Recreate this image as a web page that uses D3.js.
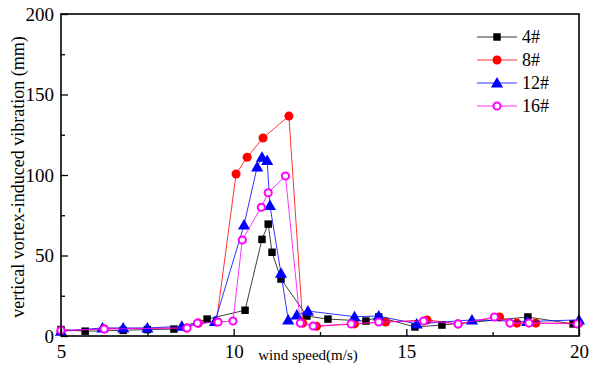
<!DOCTYPE html>
<html><head><meta charset="utf-8">
<script src="https://cdn.jsdelivr.net/npm/d3@7"></script>
<style>body{margin:0;background:#fff}svg{display:block}</style>
</head><body><svg id="c" width="600" height="373"></svg>
<script>
const seriesNames = ["4#", "8#", "12#", "16#"];
const s4x = [5.0, 5.7, 6.8, 7.5, 8.27, 9.23, 10.33, 10.82, 11.0, 11.11, 11.37, 12.12, 12.73, 13.83, 14.2, 15.25, 16.03, 18.52, 19.83];
const s4y = [4, 3, 3.5, 4, 4.3, 10.5, 16, 60, 69.5, 52, 35.4, 12.4, 10.5, 9.3, 11.8, 5.6, 6.8, 11.8, 7.5];
const s8x = [5.0, 6.25, 8.64, 8.98, 9.5, 10.07, 10.39, 10.85, 11.6, 12.0, 12.4, 13.5, 14.4, 15.6, 16.5, 17.7, 18.2, 18.75, 20.0];
const s8y = [3, 4.5, 5, 8, 8.7, 100.6, 111, 123, 136.6, 8, 6, 7.5, 8.7, 10, 7.5, 11.8, 8, 8, 8];
const s12x = [5.0, 6.2, 6.8, 7.5, 8.5, 9.46, 10.3, 10.68, 10.82, 10.97, 11.05, 11.37, 11.58, 11.83, 12.15, 13.5, 14.2, 15.3, 16.9, 18.5, 20.0];
const s12y = [3, 5, 5, 5, 6, 9, 69, 105, 111, 109, 81, 39, 10, 13, 15.5, 12, 12.4, 7.5, 10, 9, 10];
const s16x = [5.0, 6.25, 8.65, 8.95, 9.55, 9.98, 10.25, 10.8, 11.0, 11.5, 11.93, 12.3, 13.4, 14.2, 15.5, 16.5, 17.55, 18.0, 18.55, 19.95];
const s16y = [3.5, 4.3, 5, 8, 8.7, 9.3, 59.6, 80, 89, 99.4, 8, 6.2, 7.5, 8.7, 9.3, 7.5, 11.8, 8, 8, 7.5];
const xTicks = [5, 10, 15, 20];
const yTicks = [0, 50, 100, 150, 200];
const xTitle = "wind speed(m/s)";
const yTitle = "vertical vortex-induced vibration (mm)";

const L = 61, R = 579, T = 14, B = 336;
const FONT = '"Liberation Serif"';
const svg = d3.select("#c");
const x = d3.scaleLinear().domain([5, 20]).range([L, R]);
const y = d3.scaleLinear().domain([0, 200]).range([B, T]);

const colors = ["#000", "#ff0000", "#0000ff", "#ff00ff"];
const data = [[s4x, s4y], [s8x, s8y], [s12x, s12y], [s16x, s16y]].map(([xs, ys]) => xs.map((v, i) => [v, ys[i]]));

const g = svg.append("g");
const line = d3.line().x(d => x(d[0])).y(d => y(d[1]));
const sym = [d3.symbolSquare, d3.symbolCircle, d3.symbolTriangle, d3.symbolCircle];
const symSize = [56, 64, 64, 40];

function marker(sel, i) {
  const p = d3.symbol().type(sym[i]).size(symSize[i]);
  sel.attr("d", p)
    .attr("fill", i === 3 ? "#fff" : colors[i])
    .attr("stroke", i === 3 ? colors[i] : "none")
    .attr("stroke-width", i === 3 ? 2 : 0);
}

data.forEach((ds, i) => {
  const sg = g.append("g");
  sg.append("path").datum(ds).attr("d", line).attr("fill", "none")
    .attr("stroke", colors[i]).attr("stroke-width", 1).attr("opacity", i === 0 ? 0.75 : 0.8);
  sg.selectAll("path.m").data(ds).join("path").attr("class", "m")
    .attr("transform", d => `translate(${x(d[0])},${y(d[1]) + (i === 2 ? 1 : 0)})`)
    .call(marker, i);
});

// frame
svg.append("rect").attr("x", L).attr("y", T).attr("width", R - L).attr("height", B - T)
  .attr("fill", "none").attr("stroke", "#000").attr("stroke-width", 1.6);

// axes
const xAxis = d3.axisBottom(x).tickValues(xTicks).tickSize(-7).tickPadding(9).tickFormat(d3.format("d"));
svg.append("g").attr("transform", `translate(0,${B})`).call(xAxis);
const xMinor = d3.axisBottom(x).tickValues([7.5, 12.5, 17.5]).tickSize(-4).tickFormat("");
svg.append("g").attr("transform", `translate(0,${B})`).call(xMinor);
const yAxis = d3.axisLeft(y).tickValues(yTicks).tickSize(-7).tickPadding(7).tickFormat(d3.format("d"));
svg.append("g").attr("transform", `translate(${L},0)`).call(yAxis);
const yMinor = d3.axisLeft(y).tickValues([25, 75, 125, 175]).tickSize(-4).tickFormat("");
svg.append("g").attr("transform", `translate(${L},0)`).call(yMinor);
svg.selectAll(".domain").remove();
svg.selectAll(".tick line").attr("stroke", "#000").attr("stroke-width", 1.3);
svg.selectAll(".tick text").style("font-family", FONT).style("font-size", "19px").attr("fill", "#000");

svg.append("text").attr("x", 308).attr("y", 360).attr("text-anchor", "middle")
  .style("font-family", FONT).style("font-size", "15px").text(xTitle);
svg.append("text").attr("transform", `translate(24,177) rotate(-90)`).attr("text-anchor", "middle")
  .style("font-family", FONT).style("font-size", "18px").text(yTitle);

// legend
const lg = svg.append("g");
seriesNames.forEach((n, i) => {
  const yy = 37 + i * 23;
  lg.append("line").attr("x1", 477).attr("x2", 517).attr("y1", yy).attr("y2", yy).attr("stroke", colors[i]).attr("stroke-width", 1).attr("opacity", 0.8);
  lg.append("path").attr("transform", `translate(497,${yy + (i === 2 ? 1 : 0)})`).call(marker, i);
  lg.append("text").attr("x", 522).attr("y", yy + 6).style("font-family", FONT).style("font-size", "18px").text(n);
});
</script></body></html>
